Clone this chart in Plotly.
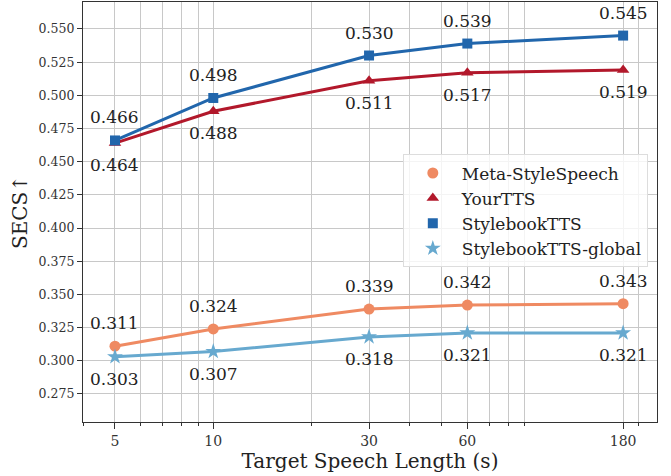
import plotly.graph_objects as go
import math

x_vals = [5, 10, 30, 60, 180]
meta_stylespeech = [0.311, 0.324, 0.339, 0.342, 0.343]
yourtts = [0.464, 0.488, 0.511, 0.517, 0.519]
stylebooktts = [0.466, 0.498, 0.530, 0.539, 0.545]
stylebooktts_global = [0.303, 0.307, 0.318, 0.321, 0.321]

x_tick_labels = ["5", "10", "30", "60", "180"]
x_minor = [4, 6, 7, 8, 9, 20, 40, 50, 70, 80, 90, 200]
y_ticks = [0.275, 0.300, 0.325, 0.350, 0.375, 0.400, 0.425, 0.450, 0.475, 0.500, 0.525, 0.550]

series = [
    ("Meta-StyleSpeech", meta_stylespeech, "#EF8A62", "circle", 11, "above"),
    ("YourTTS", yourtts, "#B2182B", "triangle-up", 11, "below"),
    ("StylebookTTS", stylebooktts, "#2166AC", "square", 10, "above"),
    ("StylebookTTS-global", stylebooktts_global, "#67A9CF", "star", 12, "below"),
]

FONT = "DejaVu Serif"
fig = go.Figure()
annotations = []
for name, ys, color, sym, size, pos in series:
    fig.add_trace(go.Scatter(x=x_vals, y=ys, mode="lines+markers", showlegend=False,
                             line=dict(color=color, width=3),
                             marker=dict(symbol=sym, size=size, color=color)))
    for xv, yv in zip(x_vals, ys):
        annotations.append(dict(x=math.log10(xv), y=yv, xref="x", yref="y",
                                text=f"{yv:.3f}", showarrow=False,
                                yshift=23 if pos == "above" else -22,
                                font=dict(family=FONT, size=17, color="#222")))

for name, ys, color, sym, size, pos in series:
    fig.add_trace(go.Scatter(x=[None], y=[None], mode="markers", name=name,
                             marker=dict(symbol=sym, size=size, color=color)))

fig.update_layout(
    width=671, height=476,
    margin=dict(l=83, r=14, t=2, b=54),
    paper_bgcolor="white", plot_bgcolor="white",
    font=dict(family=FONT, color="#222"),
    annotations=annotations,
    legend=dict(x=0.984, y=0.637, xanchor="right", yanchor="top",
                bgcolor="rgba(255,255,255,0.8)", bordercolor="#ddd", borderwidth=1,
                font=dict(family=FONT, size=17, color="#222"),
                itemwidth=48, tracegroupgap=0),
    xaxis=dict(type="log", range=[math.log10(3.99), math.log10(228.6)],
               tickmode="array", tickvals=x_vals, ticktext=x_tick_labels,
               ticks="outside", ticklen=6, tickcolor="#333",
               tickfont=dict(family=FONT, size=14, color="#333"),
               showgrid=True, gridcolor="#c8c8c8", gridwidth=1.2,
               minor=dict(tickmode="array", tickvals=x_minor, ticks="outside", ticklen=3,
                          tickcolor="#333", showgrid=True, gridcolor="#c8c8c8", gridwidth=1.2),
               showline=True, linecolor="#333", linewidth=1.3, mirror=True,
               zeroline=False,
               title=dict(text="Target Speech Length (s)", font=dict(family=FONT, size=20, color="#222"),
                          standoff=6)),
    yaxis=dict(range=[0.2539, 0.5703], tickmode="array", tickvals=y_ticks,
               tickformat=".3f", ticks="outside", ticklen=5, tickcolor="#333",
               tickfont=dict(family=FONT, size=12.5, color="#333"),
               showgrid=True, gridcolor="#c8c8c8", gridwidth=1.2,
               showline=True, linecolor="#333", linewidth=1.3, mirror=True,
               zeroline=False,
               title=dict(text="SECS↑", font=dict(family=FONT, size=20, color="#222"),
                          standoff=5)),
)

fig.write_html("out.html", config={"displayModeBar": False},
               post_script="document.body.style.margin='0';document.body.style.overflow='hidden';")
